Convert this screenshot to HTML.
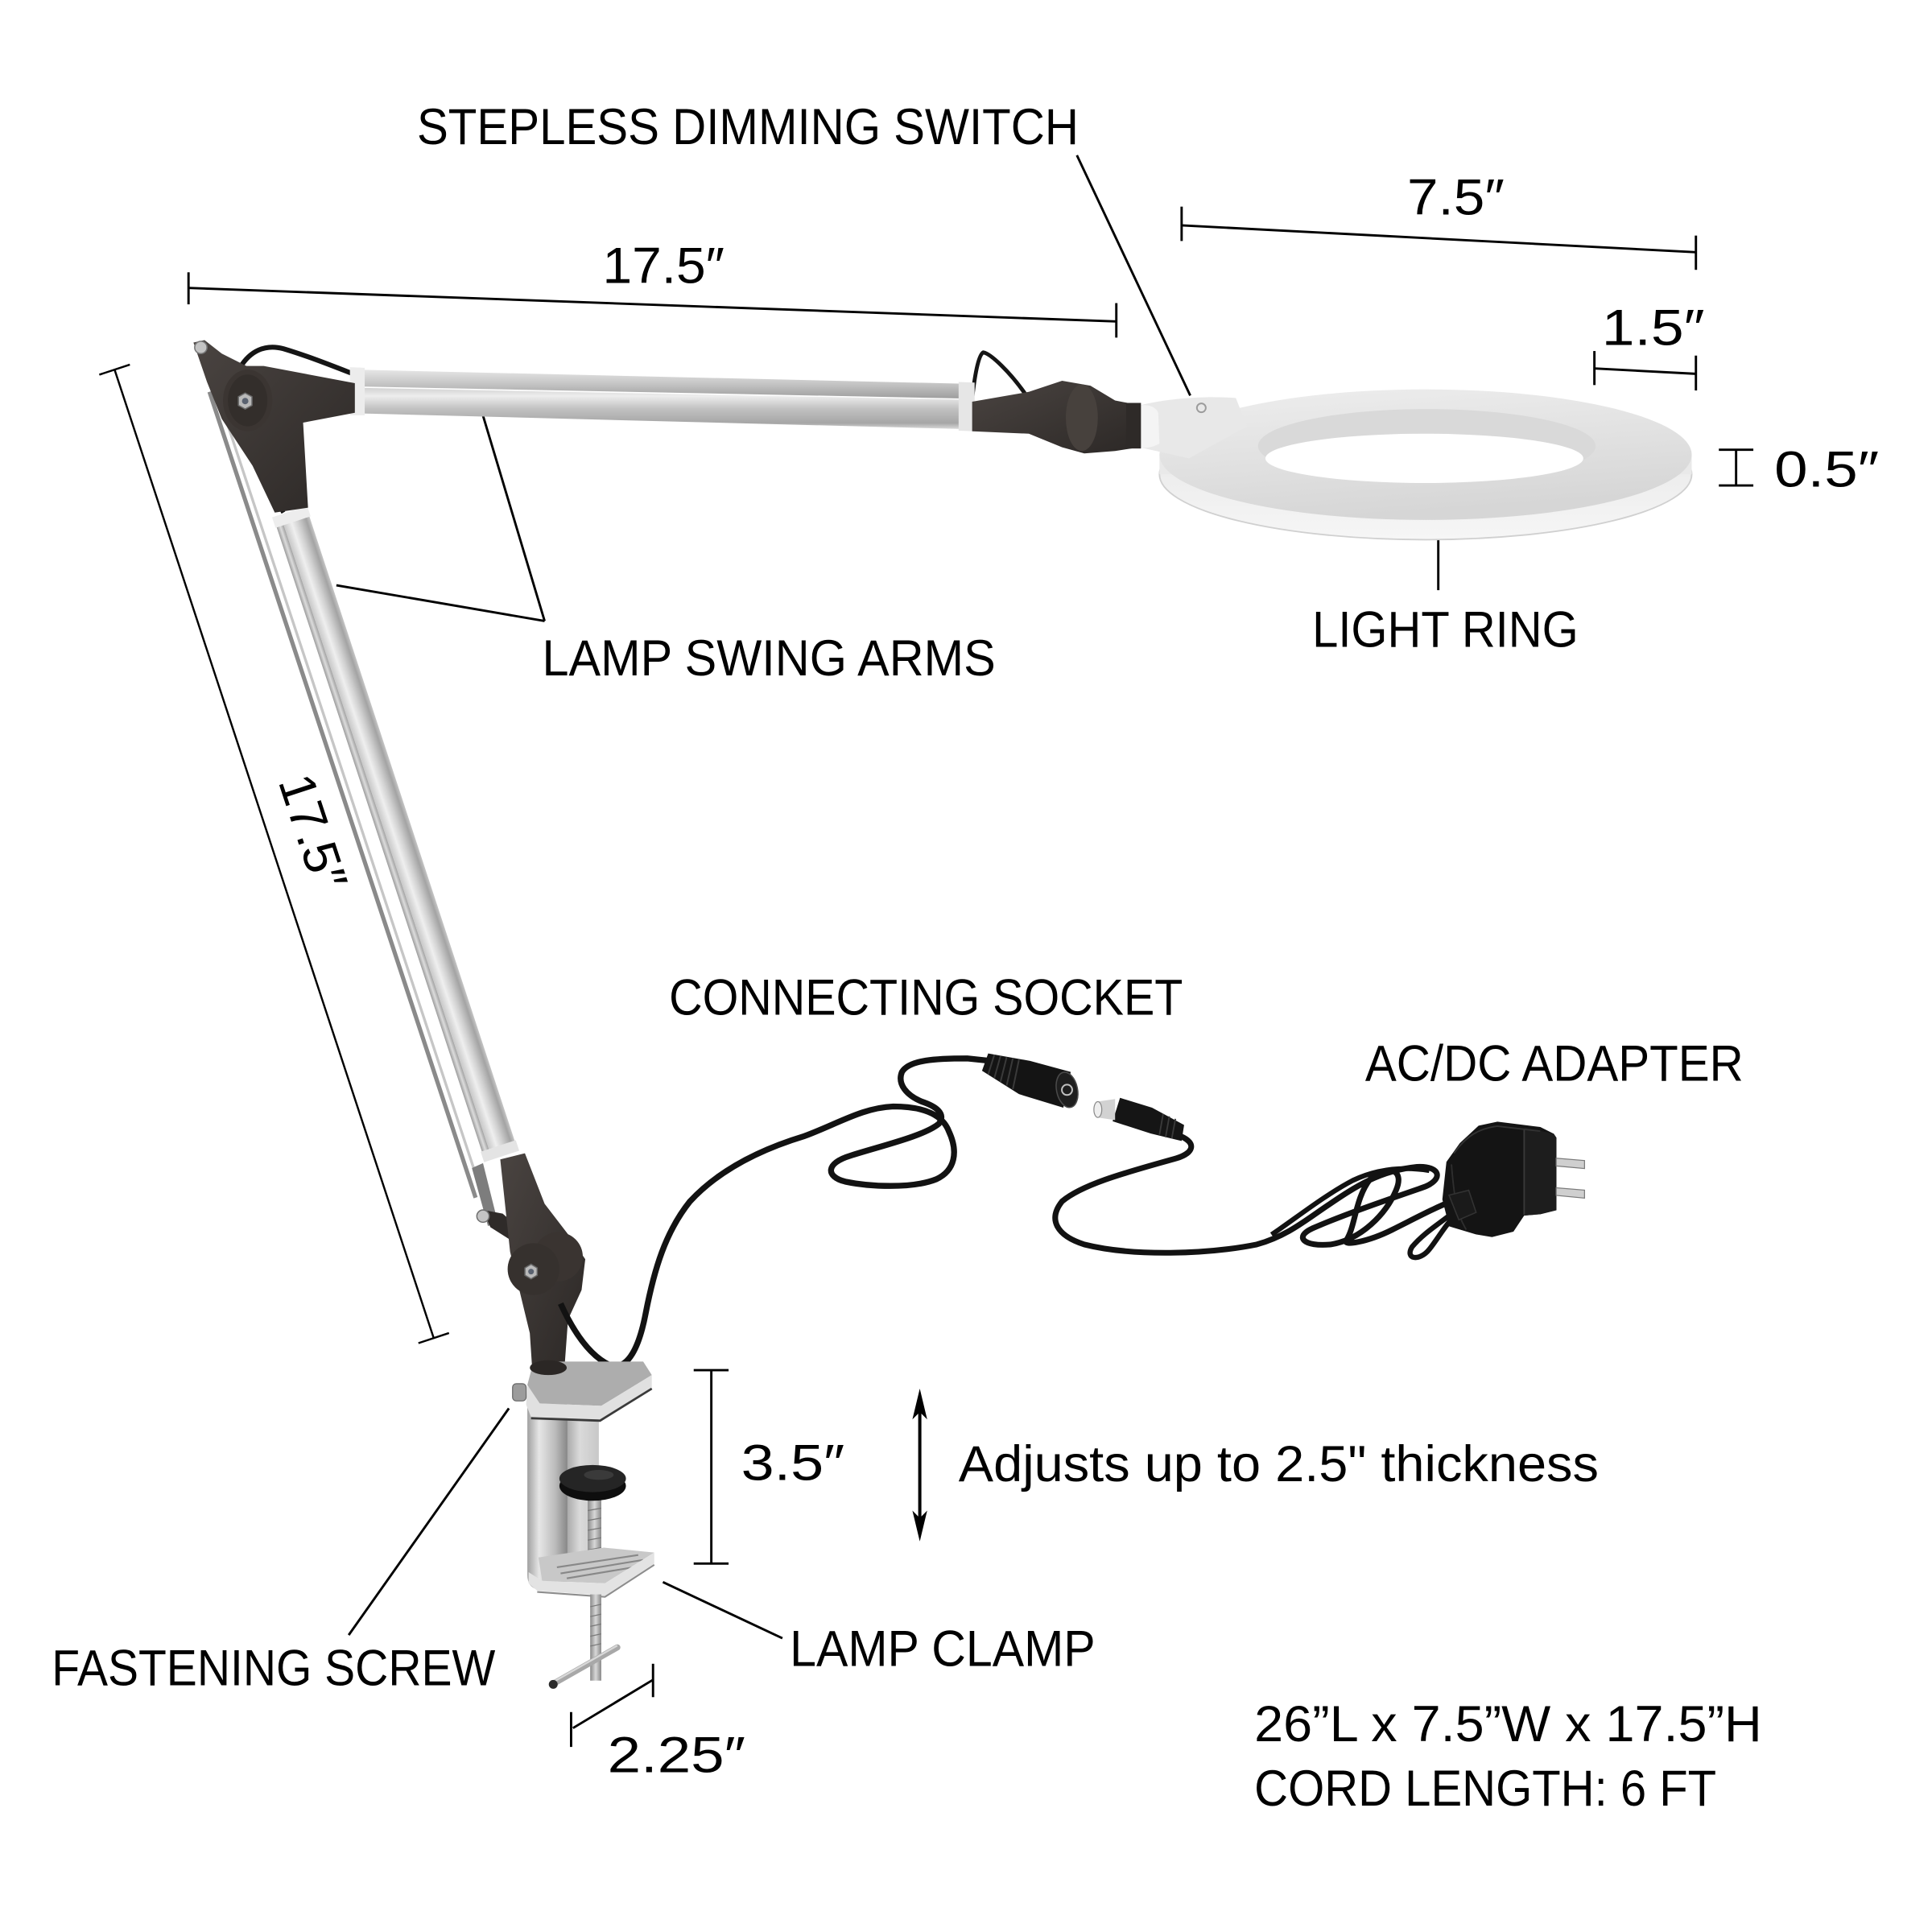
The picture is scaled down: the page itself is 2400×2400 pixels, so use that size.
<!DOCTYPE html>
<html><head><meta charset="utf-8"><style>
html,body{margin:0;padding:0;background:#fff;}
svg{display:block;}
text{font-family:"Liberation Sans",Arial,sans-serif;fill:#000;}
</style></head><body>
<svg width="2400" height="2400" viewBox="0 0 1568 1568" xmlns="http://www.w3.org/2000/svg">
<defs>
<linearGradient id="alV" x1="0" y1="0" x2="0" y2="1">
<stop offset="0" stop-color="#d2d2d2"/><stop offset="0.2" stop-color="#ededed"/><stop offset="0.5" stop-color="#c2c2c2"/><stop offset="0.85" stop-color="#a6a6a6"/><stop offset="1" stop-color="#dcdcdc"/>
</linearGradient>
<linearGradient id="alV2" x1="0" y1="0" x2="0" y2="1">
<stop offset="0" stop-color="#e6e6e6"/><stop offset="0.5" stop-color="#c4c4c4"/><stop offset="1" stop-color="#9e9e9e"/>
</linearGradient>
<linearGradient id="alH" x1="0" y1="0" x2="1" y2="0">
<stop offset="0" stop-color="#c8c8c8"/><stop offset="0.3" stop-color="#efefef"/><stop offset="0.55" stop-color="#d0d0d0"/><stop offset="0.85" stop-color="#a3a3a3"/><stop offset="1" stop-color="#c6c6c6"/>
</linearGradient>
<linearGradient id="alH2" x1="0" y1="0" x2="1" y2="0">
<stop offset="0" stop-color="#9c9c9c"/><stop offset="0.5" stop-color="#dcdcdc"/><stop offset="1" stop-color="#a0a0a0"/>
</linearGradient>
<linearGradient id="dark" x1="0" y1="0" x2="1" y2="1">
<stop offset="0" stop-color="#4a4441"/><stop offset="1" stop-color="#2c2826"/>
</linearGradient>
<linearGradient id="ringTop" x1="0" y1="0" x2="0.3" y2="1">
<stop offset="0" stop-color="#eeeeee"/><stop offset="0.6" stop-color="#e0e0e0"/><stop offset="1" stop-color="#d6d6d6"/>
</linearGradient>
<linearGradient id="ringSide" x1="0" y1="0" x2="0" y2="1">
<stop offset="0" stop-color="#e4e4e4"/><stop offset="1" stop-color="#f6f6f6"/>
</linearGradient>
<linearGradient id="clampBody" x1="0" y1="0" x2="1" y2="0">
<stop offset="0" stop-color="#a0a0a0"/><stop offset="0.3" stop-color="#e6e6e6"/><stop offset="0.7" stop-color="#bcbcbc"/><stop offset="1" stop-color="#8a8a8a"/>
</linearGradient>
<linearGradient id="clampIn" x1="0" y1="0" x2="1" y2="0">
<stop offset="0" stop-color="#a8a8a8"/><stop offset="0.4" stop-color="#dadada"/><stop offset="1" stop-color="#c8c8c8"/>
</linearGradient>
<linearGradient id="screw" x1="0" y1="0" x2="1" y2="0">
<stop offset="0" stop-color="#8a8a8a"/><stop offset="0.5" stop-color="#d8d8d8"/><stop offset="1" stop-color="#888"/>
</linearGradient>
</defs>

<!-- ============ TEXT ============ -->
<text x="338.4" y="117" font-size="41" textLength="537" lengthAdjust="spacingAndGlyphs">STEPLESS DIMMING SWITCH</text>
<text x="489" y="229.8" font-size="41" textLength="99" lengthAdjust="spacingAndGlyphs">17.5″</text>
<text x="1142" y="174.2" font-size="41" textLength="79" lengthAdjust="spacingAndGlyphs">7.5″</text>
<text x="1300" y="279.9" font-size="41" textLength="83.5" lengthAdjust="spacingAndGlyphs">1.5″</text>
<text x="1440" y="395" font-size="41" textLength="85" lengthAdjust="spacingAndGlyphs">0.5″</text>
<text x="1065" y="525" font-size="41" textLength="216" lengthAdjust="spacingAndGlyphs">LIGHT RING</text>
<text x="440" y="548" font-size="41" textLength="368" lengthAdjust="spacingAndGlyphs">LAMP SWING ARMS</text>
<text transform="translate(240.7,679.7) rotate(71.76)" text-anchor="middle" font-size="41" textLength="96" lengthAdjust="spacingAndGlyphs">17.5″</text>
<text x="543" y="823.6" font-size="41" textLength="417" lengthAdjust="spacingAndGlyphs">CONNECTING SOCKET</text>
<text x="1108" y="877" font-size="41" textLength="307" lengthAdjust="spacingAndGlyphs">AC/DC ADAPTER</text>
<text x="601.5" y="1201" font-size="41" textLength="84" lengthAdjust="spacingAndGlyphs">3.5″</text>
<text x="778" y="1202" font-size="41" textLength="519.5" lengthAdjust="spacingAndGlyphs">Adjusts up to 2.5" thickness</text>
<text x="42" y="1367.6" font-size="41" textLength="360" lengthAdjust="spacingAndGlyphs">FASTENING SCREW</text>
<text x="641" y="1352" font-size="41" textLength="248" lengthAdjust="spacingAndGlyphs">LAMP CLAMP</text>
<text x="493" y="1438.4" font-size="41" textLength="112" lengthAdjust="spacingAndGlyphs">2.25″</text>
<text x="1018" y="1413" font-size="41" textLength="412" lengthAdjust="spacingAndGlyphs">26”L x 7.5”W x 17.5”H</text>
<text x="1018" y="1465.3" font-size="41" textLength="375" lengthAdjust="spacingAndGlyphs">CORD LENGTH: 6 FT</text>

<!-- ============ DIMENSION / LEADER LINES ============ -->
<g stroke="#000" stroke-width="1.9" fill="none" stroke-linecap="butt">
<line x1="153" y1="233.7" x2="906" y2="260.9"/>
<line x1="153" y1="221" x2="153" y2="247"/>
<line x1="906" y1="246" x2="906" y2="274"/>
<line x1="874" y1="126" x2="966" y2="321"/>
<line x1="959" y1="182.9" x2="1376.4" y2="204.7"/>
<line x1="959" y1="167.7" x2="959" y2="195.6"/>
<line x1="1376.4" y1="191.2" x2="1376.4" y2="219"/>
<line x1="1294" y1="299" x2="1376.4" y2="303.4"/>
<line x1="1294" y1="284.9" x2="1294" y2="312.5"/>
<line x1="1376.4" y1="288.6" x2="1376.4" y2="316.9"/>
<line x1="1409" y1="365" x2="1409" y2="394"/>
<line x1="1395" y1="365" x2="1423" y2="365"/>
<line x1="1395" y1="394" x2="1423" y2="394"/>
<line x1="1167.3" y1="429" x2="1167.3" y2="479"/>
<line x1="391" y1="334" x2="442" y2="504"/>
<line x1="273" y1="475" x2="442" y2="504"/>
<line x1="93" y1="300" x2="352" y2="1086" stroke-width="1.6"/>
<line x1="80.6" y1="304.1" x2="105.4" y2="295.9" stroke-width="1.6"/>
<line x1="339.6" y1="1090.1" x2="364.4" y2="1081.9" stroke-width="1.6"/>
<line x1="577.3" y1="1112" x2="577.3" y2="1269"/>
<line x1="563" y1="1112" x2="591.3" y2="1112"/>
<line x1="563" y1="1269" x2="591.3" y2="1269"/>
<line x1="746.5" y1="1140" x2="746.5" y2="1238" stroke-width="2.6"/>
<line x1="413" y1="1143" x2="283" y2="1327"/>
<line x1="538" y1="1284" x2="635" y2="1329.6"/>
<line x1="530" y1="1363.3" x2="465" y2="1402.5"/>
<line x1="530" y1="1350.3" x2="530" y2="1377.4"/>
<line x1="463.5" y1="1389.5" x2="463.5" y2="1417.8"/>
</g>
<polygon points="746.5,1127 752.5,1152 746.5,1146 740.5,1152" fill="#000"/>
<polygon points="746.5,1251 752.5,1226 746.5,1232 740.5,1226" fill="#000"/>

<!-- ============ RING ============ -->
<ellipse cx="1157" cy="385" rx="216" ry="53" fill="url(#ringSide)" stroke="#d0d0d0" stroke-width="1.2"/>
<rect x="941" y="369" width="432" height="16" fill="#e9e9e9"/>
<ellipse cx="1157" cy="369" rx="216" ry="53" fill="url(#ringTop)"/>
<path d="M925,329 C945,324 975,321 1003,323 L1012,346 L965,372 L925,363 Z" fill="#e8e8e8"/>
<path d="M925,329 C932,328 938,330 940,335 L941,360 C936,363 930,364 925,363 Z" fill="#f4f4f4"/>
<circle cx="975" cy="331" r="3.6" fill="none" stroke="#9c9c9c" stroke-width="1.3"/>
<ellipse cx="1158" cy="362" rx="137" ry="30" fill="#d9d9d9"/>
<ellipse cx="1156" cy="372" rx="129" ry="20" fill="#fff"/>

<!-- ============ UPPER ARM ============ -->
<path d="M195,298 C203,285 215,279 230,283 C250,289 270,297 288,304" fill="none" stroke="#151515" stroke-width="4"/>
<path d="M789,324 C791,305 794,288 798,286 C804,287 820,302 833,321" fill="none" stroke="#151515" stroke-width="3.2"/>
<polygon points="288,300 781,311.4 781,323.4 288,313.6" fill="url(#alV2)"/>
<polygon points="288,314.7 789,324.5 789,348.4 288,335.4" fill="url(#alV)"/>
<polygon points="284,298 296,298.5 296,337 284,337" fill="#ececec"/>
<polygon points="778,310 791,310.5 791,350 778,349.5" fill="#e6e6e6"/>
<polygon points="789,326 835,318 862,309 885,313 905,325 925,329 925,363 905,366 880,368 862,363 835,352 789,350" fill="url(#dark)"/>
<ellipse cx="878" cy="339" rx="13" ry="27" fill="#47413d"/>
<rect x="914" y="327" width="12" height="37" fill="#2e2a28"/>

<!-- ============ LOWER ARM ============ -->
<line x1="170" y1="318" x2="386" y2="972" stroke="#8a8a8a" stroke-width="3.4"/>
<line x1="176" y1="318" x2="391" y2="968" stroke="#c6c6c6" stroke-width="2.2"/>
<path d="M190,336 C200,360 215,390 230,416" fill="none" stroke="#151515" stroke-width="3.5"/>
<g transform="translate(236,418) rotate(-18.2)">
<rect x="-14" y="0" width="6" height="547" fill="url(#alH2)"/>
<rect x="-8" y="0" width="22" height="547" fill="url(#alH)"/>
<rect x="-15" y="-3" width="30" height="9" fill="#ededed"/>
<rect x="-15" y="539" width="30" height="9" fill="#e4e4e4"/>
</g>
<polygon points="157,278 166,276 180,287 200,297 214,297 288,311 288,335 246,343 250,412 223,416 205,378 180,340 168,310" fill="url(#dark)"/>
<ellipse cx="201" cy="325" rx="20" ry="25" fill="#3b3532"/>
<ellipse cx="201" cy="325" rx="16" ry="21" fill="#332e2b"/>
<polygon points="199,319 204.5,322 204.5,329 199,332 193.5,329 193.5,322" fill="#b9b9b9" stroke="#6a6a6a" stroke-width="1"/>
<circle cx="199" cy="325.5" r="2.6" fill="#5a6270"/>
<circle cx="163" cy="282" r="5" fill="#c4c4c4" stroke="#777" stroke-width="1"/>

<!-- ============ BOTTOM JOINT ============ -->
<path d="M383,948 L392,944 L404,992 L396,995 Z" fill="#7d7d7d"/>
<polygon points="392,982 408,985 425,1000 420,1010 398,996" fill="#2f2b29"/>
<polygon points="406,941 426,936 442,977 462,1003 475,1022 472,1047 461,1071 458,1112 432,1112 430,1082 414,1016" fill="url(#dark)"/>
<circle cx="453" cy="1020" r="20" fill="#3a3431"/>
<circle cx="433" cy="1030" r="21" fill="#36312e"/>
<polygon points="431,1026 436,1029 436,1035 431,1038 426,1035 426,1029" fill="#b9b9b9" stroke="#666" stroke-width="1"/>
<circle cx="431" cy="1032" r="2.3" fill="#5a6270"/>
<circle cx="392" cy="987" r="5" fill="#c4c4c4" stroke="#6f6f6f" stroke-width="1"/>
<path d="M455,1058 C465,1080 478,1100 495,1108 C510,1113 519,1092 524,1066 C531,1030 540,1000 560,975 C585,948 620,932 653,922 C680,912 700,899 725,898 C750,898 765,905 770,918 C778,935 775,950 760,957 C740,965 705,963 686,959 C670,955 670,944 690,938 C715,930 750,922 762,912 C768,904 760,898 748,894 C736,889 728,880 732,870 C738,860 760,859 785,859 L804,861" fill="none" stroke="#121212" stroke-width="4.8" stroke-linejoin="round"/>

<!-- ============ CLAMP ============ -->
<path d="M428,1126 L460,1126 L460,1290 L436,1290 Q428,1288 428,1278 Z" fill="url(#clampBody)"/>
<rect x="460" y="1145" width="26" height="128" fill="url(#clampIn)"/>
<line x1="460" y1="1145" x2="460" y2="1275" stroke="#8a8a8a" stroke-width="1"/>
<polygon points="428,1124 432,1109 446,1105 522,1105 529,1116 488,1141 438,1139" fill="#adadad"/>
<polygon points="428,1124 438,1139 488,1141 529,1116 529,1127 487,1152 431,1150 427,1140" fill="#e0e0e0"/>
<polyline points="431,1151 487,1153 529,1127" fill="none" stroke="#3a3a3a" stroke-width="1.8"/>
<ellipse cx="445" cy="1110" rx="15" ry="6" fill="#2b2725"/>
<rect x="416" y="1123" width="11" height="14" rx="3" fill="#9c9c9c" stroke="#666" stroke-width="0.8"/>
<rect x="477" y="1205" width="11" height="62" fill="url(#screw)"/>
<g stroke="#777" stroke-width="0.8">
<line x1="477" y1="1218" x2="488" y2="1216"/><line x1="477" y1="1226" x2="488" y2="1224"/><line x1="477" y1="1234" x2="488" y2="1232"/><line x1="477" y1="1242" x2="488" y2="1240"/><line x1="477" y1="1250" x2="488" y2="1248"/><line x1="477" y1="1258" x2="488" y2="1256"/>
</g>
<ellipse cx="481" cy="1206" rx="27" ry="12" fill="#0e0e0e"/>
<ellipse cx="481" cy="1200" rx="27" ry="11" fill="#252525"/>
<ellipse cx="486" cy="1197" rx="12" ry="4" fill="#3a3a3a"/>
<polygon points="437,1264 490,1256 531,1260 491,1285 440,1283" fill="#c8c8c8"/>
<g stroke="#888" stroke-width="1.4">
<line x1="452" y1="1272" x2="518" y2="1262"/><line x1="455" y1="1277" x2="522" y2="1266"/><line x1="460" y1="1281" x2="526" y2="1270"/>
</g>
<polygon points="429,1276 440,1283 491,1285 531,1260 531,1269 491,1295 436,1291 429,1285" fill="#e3e3e3"/>
<polyline points="436,1292 491,1296 531,1270" fill="none" stroke="#8d8d8d" stroke-width="1.4"/>
<rect x="479" y="1294" width="9" height="70" fill="url(#screw)"/>
<g stroke="#7a7a7a" stroke-width="0.8">
<line x1="479" y1="1304" x2="488" y2="1302"/><line x1="479" y1="1312" x2="488" y2="1310"/><line x1="479" y1="1320" x2="488" y2="1318"/><line x1="479" y1="1328" x2="488" y2="1326"/><line x1="479" y1="1336" x2="488" y2="1334"/>
</g>
<line x1="450" y1="1366" x2="501" y2="1337" stroke="#a8a8a8" stroke-width="5" stroke-linecap="round"/>
<line x1="450" y1="1364.5" x2="501" y2="1335.5" stroke="#d8d8d8" stroke-width="1.5"/>
<circle cx="449" cy="1367" r="3.6" fill="#2a2a2a"/>

<!-- ============ SOCKET / PLUG ============ -->
<polygon points="802,855 836,861 869,870 863,899 827,888 797,869" fill="#141414"/>
<g stroke="#3a3a3a" stroke-width="1.3">
<line x1="807" y1="856" x2="802" y2="872"/><line x1="812" y1="857" x2="807" y2="875"/><line x1="817" y1="858" x2="812" y2="878"/><line x1="822" y1="859" x2="817" y2="881"/><line x1="827" y1="860" x2="822" y2="884"/>
</g>
<ellipse cx="866" cy="884.5" rx="8.5" ry="14.5" transform="rotate(-12 866 884.5)" fill="#1e1e1e" stroke="#4a4a4a" stroke-width="1"/>
<circle cx="866" cy="884.5" r="4.2" fill="none" stroke="#c0c0c0" stroke-width="1.3"/>
<polygon points="909,891 935,899 961,913 959,926 934,920 903,910" fill="#151515"/>
<g stroke="#3a3a3a" stroke-width="1.2">
<line x1="944" y1="904" x2="941" y2="921"/><line x1="949" y1="906" x2="946" y2="923"/><line x1="954" y1="908" x2="951" y2="924"/>
</g>
<polygon points="891,894 905,892 905,909 891,907" fill="#d2d2d2"/>
<ellipse cx="891" cy="900.5" rx="3.2" ry="6.4" fill="#eeeeee" stroke="#8a8a8a" stroke-width="0.8"/>
<path d="M958,922 C972,928 968,936 955,940 C920,950 880,960 862,975 C850,990 858,1003 880,1010 C920,1020 980,1018 1020,1010 C1045,1003 1060,990 1078,978 C1100,963 1120,950 1150,947 C1170,946 1172,958 1154,964 C1125,974 1090,986 1065,997 C1050,1004 1058,1012 1080,1010 C1105,1006 1125,985 1133,966 C1140,950 1128,944 1112,957 C1100,972 1100,995 1093,1006 C1088,1012 1110,1008 1130,998 C1150,988 1165,980 1178,975" fill="none" stroke="#121212" stroke-width="4.6" stroke-linejoin="round"/>
<path d="M1032,1002 C1050,990 1075,970 1098,958 C1115,950 1135,946 1160,950" fill="none" stroke="#121212" stroke-width="4"/>
<path d="M1182,982 C1170,992 1156,1000 1146,1012 C1140,1022 1152,1024 1160,1014 C1168,1004 1174,992 1184,984" fill="none" stroke="#121212" stroke-width="4.2"/>
<polygon points="1173.9,943 1184.8,927.7 1200,913.6 1215.3,910.3 1250.1,914.7 1261,920.1 1263.2,923.4 1263.2,982.2 1250.1,985.5 1237,986.5 1228.3,999.6 1210.9,1004 1197.8,1001.8 1176.1,995.3 1170.6,973.5" fill="#141414"/>
<polygon points="1237,915 1261,920.1 1263.2,923.4 1263.2,982.2 1250.1,985.5 1237,986.5" fill="#1d1d1d"/>
<line x1="1237" y1="916" x2="1237" y2="986" stroke="#3a3a3a" stroke-width="1.2"/>
<path d="M1180,936 C1190,922 1200,916 1215,914 L1250,918" fill="none" stroke="#333" stroke-width="1.2"/>
<path d="M1178,945 C1180,970 1182,985 1190,998" fill="none" stroke="#2e2e2e" stroke-width="1.2"/>
<polygon points="1176,970 1192,966 1198,984 1184,990" fill="#1a1a1a" stroke="#333" stroke-width="1"/>
<polygon points="1263,940 1286,941.9 1286,948.4 1263,946.3" fill="#cfcfcf" stroke="#7a7a7a" stroke-width="0.8"/>
<polygon points="1263,964 1286,965.9 1286,972.4 1263,970.2" fill="#cfcfcf" stroke="#7a7a7a" stroke-width="0.8"/>
</svg>
</body></html>
